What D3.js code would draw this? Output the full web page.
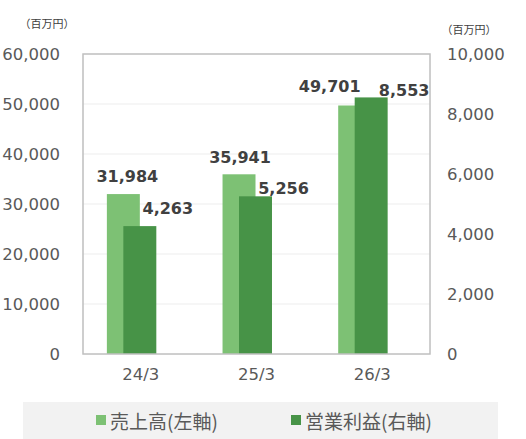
<!DOCTYPE html>
<html><head><meta charset="utf-8">
<script src="https://cdn.jsdelivr.net/npm/d3@7"></script>
<style>
html,body{margin:0;padding:0;background:#fff;}
svg{display:block;}
</style></head>
<body>
<svg id="chart" width="526" height="439"></svg>
<script>
const categories = ["24/3", "25/3", "26/3"];
const sales = [31984, 35941, 49701];          // 売上高 (left axis)
const opProfit = [4263, 5256, 8553];          // 営業利益 (right axis)
const leftTicks = [0, 10000, 20000, 30000, 40000, 50000, 60000];
const rightTicks = [0, 2000, 4000, 6000, 8000, 10000];
const seriesNames = ["売上高(左軸)", "営業利益(右軸)"];
const unitLabel = "（百万円）";

// label nudges (layout only)
const salesLabelNudge = [[4, -18], [1, -17], [-25, -19]];
const profitLabelNudge = [[28, -18], [28, -8], [33, -7]];

const lightGreen = "#7dc174", darkGreen = "#479347";
const svg = d3.select("#chart");
const L = 83, R = 430, T = 54, B = 354;

const x = d3.scaleBand().domain(categories).range([L, R]).padding(0);
const yL = d3.scaleLinear().domain([0, 60000]).range([B, T]);
const yR = d3.scaleLinear().domain([0, 10000]).range([B, T]);
const fmt = d3.format(",");
const bw = x.bandwidth();
const barW = bw * 0.285;

// gridlines
svg.append("g").selectAll("line").data(leftTicks.slice(1, -1)).join("line")
  .attr("x1", L).attr("x2", R).attr("y1", d => yL(d)).attr("y2", d => yL(d))
  .attr("stroke", "#ededed").attr("stroke-width", 1);

// bars
const c = d => x(d) + bw / 2;
svg.append("g").selectAll("rect").data(categories).join("rect")
  .attr("x", (d) => c(d) - barW - 1)
  .attr("width", barW)
  .attr("y", (d, i) => yL(sales[i]))
  .attr("height", (d, i) => B - yL(sales[i]))
  .attr("fill", lightGreen);
svg.append("g").selectAll("rect").data(categories).join("rect")
  .attr("x", (d) => c(d) - barW / 2 - 1)
  .attr("width", barW)
  .attr("y", (d, i) => yR(opProfit[i]))
  .attr("height", (d, i) => B - yR(opProfit[i]))
  .attr("fill", darkGreen);

// frame
svg.append("rect").attr("x", L).attr("y", T).attr("width", R - L).attr("height", B - T)
  .attr("fill", "none").attr("stroke", "#bfbfbf").attr("stroke-width", 1.5);

// axes
const tickFont = "DejaVu Sans, Verdana, sans-serif";
const axL = svg.append("g").attr("transform", `translate(${L},0)`)
  .call(d3.axisLeft(yL).tickValues(leftTicks).tickFormat(fmt).tickSize(0).tickPadding(23));
const axR = svg.append("g").attr("transform", `translate(${R},0)`)
  .call(d3.axisRight(yR).tickValues(rightTicks).tickFormat(fmt).tickSize(0).tickPadding(17));
const axB = svg.append("g").attr("transform", `translate(0,${B})`)
  .call(d3.axisBottom(x).tickSize(0).tickPadding(14));
[axL, axR, axB].forEach(a => {
  a.select(".domain").remove();
  a.selectAll("text").attr("font-family", tickFont).attr("font-size", 16.5).attr("fill", "#595959");
});

// data labels
const labFont = "DejaVu Sans, Verdana, sans-serif";
svg.append("g").selectAll("text").data(categories).join("text")
  .attr("x", (d, i) => c(d) - barW / 2 - 1 + salesLabelNudge[i][0])
  .attr("y", (d, i) => yL(sales[i]) + salesLabelNudge[i][1])
  .attr("text-anchor", "middle").attr("dominant-baseline", "central")
  .attr("font-family", labFont).attr("font-weight", "bold").attr("font-size", 16)
  .attr("fill", "#404040").text((d, i) => fmt(sales[i]));
svg.append("g").selectAll("text").data(categories).join("text")
  .attr("x", (d, i) => c(d) - 1 + profitLabelNudge[i][0])
  .attr("y", (d, i) => yR(opProfit[i]) + profitLabelNudge[i][1])
  .attr("text-anchor", "middle").attr("dominant-baseline", "central")
  .attr("font-family", labFont).attr("font-weight", "bold").attr("font-size", 16)
  .attr("fill", "#404040").text((d, i) => fmt(opProfit[i]));

// unit labels
const cjk = "'Noto Sans CJK JP', 'Noto Sans', sans-serif";
svg.append("text").attr("x", 47).attr("y", 23).attr("text-anchor", "middle")
  .attr("dominant-baseline", "central").attr("font-family", cjk).attr("font-size", 11)
  .attr("fill", "#404040").text(unitLabel);
svg.append("text").attr("x", 469).attr("y", 29).attr("text-anchor", "middle")
  .attr("dominant-baseline", "central").attr("font-family", cjk).attr("font-size", 11)
  .attr("fill", "#404040").text(unitLabel);

// legend
svg.append("rect").attr("x", 23).attr("y", 402).attr("width", 475).attr("height", 37).attr("fill", "#f2f2f2");
const legX = [96, 291];
const legColors = [lightGreen, darkGreen];
const leg = svg.append("g").selectAll("g").data(seriesNames).join("g")
  .attr("transform", (d, i) => `translate(${legX[i]},420)`);
leg.append("rect").attr("x", 0).attr("y", -5).attr("width", 10).attr("height", 10)
  .attr("fill", (d, i) => legColors[i]);
leg.append("text").attr("x", 14).attr("y", 0).attr("dominant-baseline", "central")
  .attr("font-family", cjk).attr("font-size", 19).attr("fill", "#595959").text(d => d);
</script>
</body></html>
